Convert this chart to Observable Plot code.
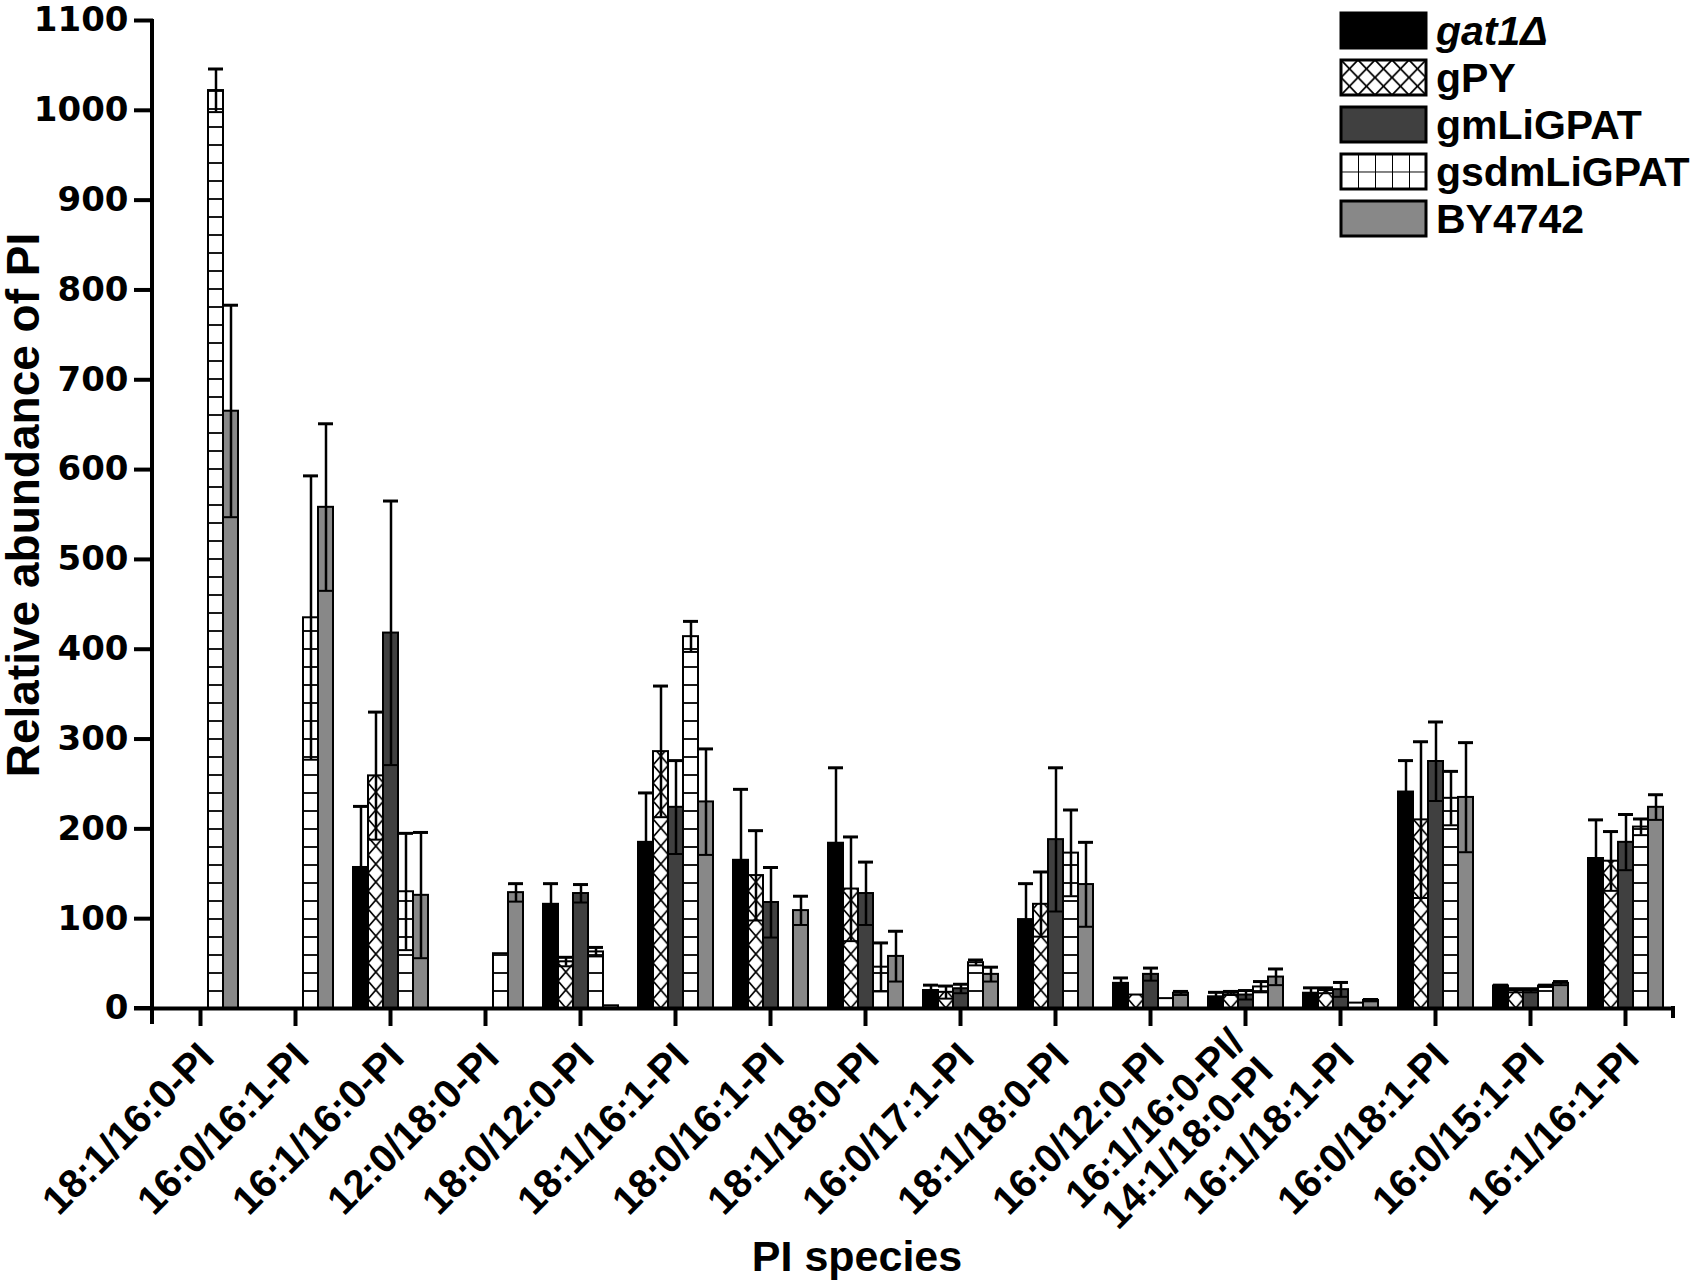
<!DOCTYPE html>
<html>
<head>
<meta charset="utf-8">
<script src="https://cdn.jsdelivr.net/npm/d3@7"></script>
<script src="https://cdn.jsdelivr.net/npm/@observablehq/plot@0.6"></script>
<style>
  body { margin: 0; background: #fff; }
  #wrap { position: relative; width: 1700px; height: 1286px; }
  .ytitle { position: absolute; left: 23px; top: 505px; transform: translate(-50%, -50%) rotate(-90deg);
            white-space: nowrap; font: bold 46px "Liberation Sans", Arial, sans-serif; line-height: 1; }
  .xtitle { position: absolute; left: 857px; top: 1256px; transform: translate(-50%, -50%);
            white-space: nowrap; font: bold 43px "Liberation Sans", Arial, sans-serif; line-height: 1; }
  #legend { position: absolute; left: 1335px; top: 0px; }
  g[aria-label="y-axis tick label"] text { font-family: "DejaVu Sans", sans-serif; font-weight: bold; }
</style>
</head>
<body>
<svg width="0" height="0" style="position:absolute">
  <defs>
    <pattern id="xhatch" patternUnits="userSpaceOnUse" width="15.4" height="18">
      <rect width="15.4" height="18" fill="white"/>
      <path d="M0,0L15.4,18M15.4,0L0,18" stroke="black" stroke-width="1.7" fill="none"/>
    </pattern>
    <pattern id="hlines" patternUnits="userSpaceOnUse" width="20" height="18">
      <rect width="20" height="18" fill="white"/>
      <path d="M0,1H20" stroke="black" stroke-width="1.8" fill="none"/>
    </pattern>
    <pattern id="xhatchLeg" patternUnits="userSpaceOnUse" x="6" y="60" width="17" height="17.5">
      <rect width="17" height="17.5" fill="white"/>
      <path d="M0,0L17,17.5M17,0L0,17.5" stroke="black" stroke-width="1.8" fill="none"/>
    </pattern>
    <pattern id="gridLeg" patternUnits="userSpaceOnUse" x="6" y="154" width="17" height="17.5">
      <rect width="17" height="17.5" fill="white"/>
      <path d="M0,0H17M0,0V17.5" stroke="black" stroke-width="2" fill="none"/>
    </pattern>
  </defs>
</svg>
<div id="wrap">
  <div class="ytitle">Relative abundance of PI</div>
  <div class="xtitle">PI species</div>
  <svg id="legend" width="365" height="250"></svg>
</div>
<script>
// ---- data ----
const categories = [
  "18:1/16:0-PI", "16:0/16:1-PI", "16:1/16:0-PI", "12:0/18:0-PI",
  "18:0/12:0-PI", "18:1/16:1-PI", "18:0/16:1-PI", "18:1/18:0-PI",
  "16:0/17:1-PI", "18:1/18:0-PI", "16:0/12:0-PI", "16:1/16:0-PI/\n14:1/18:0-PI",
  "16:1/18:1-PI", "16:0/18:1-PI", "16:0/15:1-PI", "16:1/16:1-PI"
];
const seriesNames = ["gat1Δ", "gPY", "gmLiGPAT", "gsdmLiGPAT", "BY4742"];

const gat1Values = [0, 0, 157, 0, 116, 185, 165, 184, 20, 99, 28, 13, 17, 241, 25, 167];
const gat1Err    = [0, 0, 68, 0, 23, 55, 79, 84, 6, 40, 6, 5, 6, 35, 1, 43];
const gpyValues  = [0, 0, 259, 0, 52, 286, 148, 133, 18, 116, 15, 17, 20, 210, 20, 164];
const gpyErr     = [0, 0, 71, 0, 5, 73, 50, 58, 7, 36, 0, 2, 3, 87, 2, 33];
const gmliValues = [0, 0, 418, 0, 128, 224, 118, 128, 22, 188, 38, 15, 21, 275, 20, 185];
const gmliErr    = [0, 0, 147, 0, 10, 52, 39, 35, 5, 80, 7, 5, 8, 44, 2, 31];
const gsdmValues = [1022, 435, 130, 61, 63, 414, 0, 46, 51, 173, 11, 24, 6, 234, 25, 202];
const gsdmErr    = [24, 158, 65, 0, 5, 17, 0, 27, 3, 48, 0, 6, 0, 30, 1, 9];
const byValues   = [665, 558, 126, 129, 3, 230, 109, 58, 38, 138, 17, 35, 9, 235, 28, 224];
const byErr      = [118, 93, 70, 10, 0, 59, 16, 28, 8, 47, 2, 9, 1, 61, 2, 14];

const yTicks = [0, 100, 200, 300, 400, 500, 600, 700, 800, 900, 1000, 1100];
const seriesFills = ["#000000", "url(#xhatch)", "#404040", "url(#hlines)", "#888888"];

// ---- table built from the arrays ----
const allValues = [gat1Values, gpyValues, gmliValues, gsdmValues, byValues];
const allErrs = [gat1Err, gpyErr, gmliErr, gsdmErr, byErr];
const rows = [];
categories.forEach((c, i) => seriesNames.forEach((s, j) => {
  rows.push({cat: i, series: s, value: allValues[j][i], err: allErrs[j][i]});
}));
const bars = rows.filter(d => d.value > 0);
const errRows = bars.filter(d => d.err > 0);

const chart = Plot.plot({
  width: 1700,
  height: 1286,
  marginLeft: 152,
  marginRight: 26,
  marginTop: 20,
  marginBottom: 278,
  style: {fontFamily: "'Liberation Sans', Arial, sans-serif", fontWeight: "bold", background: "transparent", color: "black", overflow: "visible"},
  fx: {domain: d3.range(categories.length), padding: 0, label: null},
  x: {domain: seriesNames, paddingInner: 0, paddingOuter: 0.58, axis: null},
  y: {domain: [0, 1100], label: null},
  color: {domain: seriesNames, range: seriesFills},
  marks: [
    Plot.barY(bars, {fx: "cat", x: "series", y: "value", fill: "series", stroke: "black", strokeWidth: 2}),
    Plot.ruleX(errRows, {fx: "cat", x: "series", y1: d => d.value - d.err, y2: d => d.value + d.err, stroke: "black", strokeWidth: 2.5}),
    Plot.tickY(errRows, {fx: "cat", x: "series", y: d => d.value + d.err, stroke: "black", strokeWidth: 3}),
    Plot.tickY(errRows, {fx: "cat", x: "series", y: d => d.value - d.err, stroke: "black", strokeWidth: 2}),
    Plot.ruleY([0], {stroke: "black", strokeWidth: 4}),
    Plot.axisY({ticks: yTicks, tickFormat: d => String(d), tickSize: 19, tickPadding: 6, strokeWidth: 4, label: null,
                fontSize: 34, fontWeight: "bold", fontFamily: "DejaVu Sans"}),
    Plot.axisFx({anchor: "bottom", tickSize: 0, tickPadding: 42, tickRotate: -45, label: null,
                 tickFormat: i => categories[i], fontSize: 40, fontWeight: "bold", dx: 6})
  ]
});
document.getElementById("wrap").prepend(chart);

// axis lines and category ticks (positions from the chart's own scales)
const ys = chart.scale("y");
const fxs = chart.scale("fx");
const svg = d3.select(chart);
const y0 = ys.apply(0), yTop = ys.apply(1100);
svg.append("line").attr("x1", 152).attr("x2", 152).attr("y1", y0 + 16).attr("y2", yTop - 1)
   .attr("stroke", "black").attr("stroke-width", 4);
svg.append("line").attr("x1", 134).attr("x2", 152).attr("y1", y0).attr("y2", y0)
   .attr("stroke", "black").attr("stroke-width", 4);
svg.append("line").attr("x1", 1673).attr("x2", 1673).attr("y1", y0 - 2).attr("y2", y0 + 10)
   .attr("stroke", "black").attr("stroke-width", 4);
const tickG = svg.append("g").attr("stroke", "black").attr("stroke-width", 4);
fxs.domain.forEach(i => {
  const cx = fxs.apply(i) + fxs.bandwidth / 2;
  tickG.append("line").attr("x1", cx).attr("x2", cx).attr("y1", y0).attr("y2", y0 + 18);
});

// ---- legend ----
const legendFills = ["#000000", "url(#xhatchLeg)", "#404040", "url(#gridLeg)", "#888888"];
const leg = d3.select("#legend");
seriesNames.forEach((s, j) => {
  const top = 13 + j * 47;
  leg.append("rect").attr("x", 6).attr("y", top).attr("width", 85).attr("height", 35)
     .attr("fill", legendFills[j]).attr("stroke", "black").attr("stroke-width", 3);
  leg.append("text").attr("x", 101).attr("y", top + 32)
     .attr("font-family", "'Liberation Sans', Arial, sans-serif").attr("font-weight", "bold")
     .attr("font-size", 41).attr("font-style", j === 0 ? "italic" : "normal").text(s);
});
</script>
</body>
</html>
